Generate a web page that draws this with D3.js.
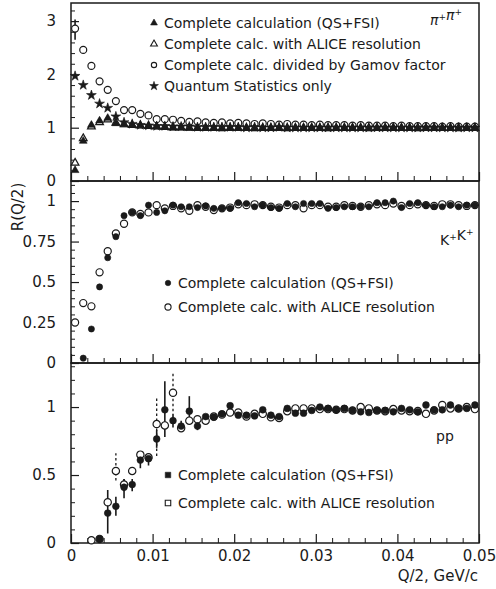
<!DOCTYPE html>
<html>
<head>
<meta charset="utf-8" />
<title>R(Q/2) for pi+pi+, K+K+ and pp</title>
<script src="https://cdn.jsdelivr.net/npm/d3@7/dist/d3.min.js"></script>
<style>
  body { margin: 0; background: #fff; }
  svg text { font-family: "DejaVu Sans", sans-serif; fill: #1a1a1a; }
</style>
</head>
<body>
<script>
// bin centres in Q/2 (GeV/c)
const qBins = [0.0005, 0.0015, 0.0025, 0.0035, 0.0045, 0.0055, 0.0065, 0.0075, 0.0085, 0.0095,
               0.0105, 0.0115, 0.0125, 0.0135, 0.0145, 0.0155, 0.0165, 0.0175, 0.0185, 0.0195,
               0.0205, 0.0215, 0.0225, 0.0235, 0.0245, 0.0255, 0.0265, 0.0275, 0.0285, 0.0295,
               0.0305, 0.0315, 0.0325, 0.0335, 0.0345, 0.0355, 0.0365, 0.0375, 0.0385, 0.0395,
               0.0405, 0.0415, 0.0425, 0.0435, 0.0445, 0.0455, 0.0465, 0.0475, 0.0485, 0.0495];

// pi+pi+
const piFull  = [0.20, 0.75, 1.05, 1.13, 1.18, 1.08, 1.06, 1.05, 1.04, 1.03,
                 1.02, 1.01, 1.00, 1.00, 0.99, 0.99, 0.99, 0.99, 0.98, 0.99,
                 0.99, 0.99, 0.98, 0.99, 0.99, 0.99, 0.98, 0.99, 0.99, 0.99,
                 0.99, 0.98, 0.99, 0.99, 0.99, 0.99, 0.98, 0.99, 0.99, 0.99,
                 0.99, 0.99, 0.98, 0.99, 0.99, 0.99, 0.99, 0.98, 0.99, 0.99];
const piAlice = [0.34, 0.80, 1.02, 1.10, 1.15, 1.09, 1.06, 1.05, 1.04, 1.03,
                 1.02, 1.01, 1.00, 1.00, 1.00, 0.99, 0.99, 0.99, 0.99, 0.99,
                 0.99, 0.99, 0.99, 0.99, 0.99, 0.99, 0.99, 0.99, 0.99, 0.99,
                 0.99, 0.99, 0.99, 0.99, 0.99, 0.99, 0.99, 0.99, 0.99, 0.99,
                 0.99, 0.99, 0.99, 0.99, 0.99, 0.99, 0.99, 0.99, 0.99, 0.99];
const piGamov = [2.86, 2.46, 2.16, 1.87, 1.71, 1.50, 1.33, 1.33, 1.26, 1.23,
                 1.16, 1.16, 1.15, 1.13, 1.11, 1.12, 1.10, 1.09, 1.10, 1.08,
                 1.09, 1.08, 1.07, 1.08, 1.07, 1.06, 1.07, 1.06, 1.06, 1.05,
                 1.06, 1.05, 1.05, 1.05, 1.04, 1.05, 1.04, 1.04, 1.04, 1.03,
                 1.04, 1.03, 1.03, 1.03, 1.03, 1.02, 1.03, 1.02, 1.02, 1.02];
const piQS    = [1.97, 1.80, 1.61, 1.45, 1.37, 1.21, 1.10, 1.07, 1.05, 1.04,
                 1.03, 1.03, 1.02, 1.02, 1.02, 1.01, 1.01, 1.01, 1.01, 1.01,
                 1.01, 1.00, 1.01, 1.00, 1.00, 1.01, 1.00, 1.00, 1.00, 1.00,
                 1.00, 1.00, 1.00, 1.00, 1.00, 1.00, 1.00, 1.00, 1.00, 1.00,
                 1.00, 1.00, 1.00, 1.00, 1.00, 1.00, 1.00, 1.00, 1.00, 1.00];
const piGamovErr = [{ q: 0.0005, lo: 2.65, hi: 3.03 }];

// K+K+
const kFull  = [null, 0.03, 0.21, 0.47, 0.65, 0.78, 0.91, 0.93, 0.91, 0.975,
                0.93, 0.94, 0.975, 0.965, 0.965, 0.96, 0.97, 0.955, 0.955, 0.955,
                0.99, 0.985, 0.965, 0.975, 0.96, 0.955, 0.985, 0.965, 0.985, 0.985,
                0.985, 0.955, 0.96, 0.965, 0.965, 0.965, 0.965, 0.99, 0.99, 1.0,
                0.96, 0.985, 0.99, 0.975, 0.965, 0.965, 0.975, 0.965, 0.975, 0.975];
const kAlice = [0.25, 0.37, 0.35, 0.56, 0.69, 0.80, 0.86, 0.93, 0.92, 0.93,
                0.975, 0.955, 0.97, 0.955, 0.94, 0.975, 0.965, 0.945, 0.955, 0.96,
                0.98, 0.975, 0.98, 0.975, 0.965, 0.96, 0.975, 0.975, 0.955, 0.975,
                0.975, 0.965, 0.965, 0.975, 0.97, 0.965, 0.975, 0.98, 0.975, 0.985,
                0.97, 0.975, 0.98, 0.975, 0.97, 0.98, 0.98, 0.975, 0.97, 0.975];

// pp
const ppFull  = [null, null, null, 0.03, 0.22, 0.27, 0.41, 0.43, 0.61, 0.62,
                 0.765, 0.98, 0.90, 0.86, 0.97, 0.86, 0.93, 0.925, 0.95, 1.01,
                 0.94, 0.94, 0.935, 0.98, 0.94, 0.93, 0.99, 0.955, 0.955, 0.975,
                 1.0, 0.99, 0.98, 0.99, 0.975, 0.965, 0.96, 0.975, 0.975, 0.965,
                 0.99, 0.98, 0.965, 1.015, 0.98, 0.98, 1.015, 0.99, 0.99, 1.015];
const ppAlice = [null, null, 0.02, 0.03, 0.30, 0.53, 0.43, 0.53, 0.65, 0.63,
                 0.875, 0.865, 1.105, 0.845, 0.90, 0.91, 0.90, 0.93, 0.945, 0.96,
                 0.96, 0.93, 0.95, 0.95, 0.925, 0.92, 0.97, 0.99, 0.99, 0.99,
                 0.985, 0.985, 0.98, 0.985, 0.975, 1.0, 0.99, 0.975, 0.97, 0.985,
                 0.975, 0.97, 0.97, 0.95, 0.975, 1.015, 0.99, 0.99, 1.0, 0.985];
const ppFullErr = [
  { q: 0.0045, lo: 0.07, hi: 0.39 }, { q: 0.0055, lo: 0.20, hi: 0.34 },
  { q: 0.0065, lo: 0.33, hi: 0.47 }, { q: 0.0075, lo: 0.38, hi: 0.47 },
  { q: 0.0085, lo: 0.55, hi: 0.67 }, { q: 0.0095, lo: 0.57, hi: 0.66 },
  { q: 0.0105, lo: 0.70, hi: 0.83 }, { q: 0.0115, lo: 0.78, hi: 1.19 },
  { q: 0.0125, lo: 0.85, hi: 0.95 }, { q: 0.0135, lo: 0.82, hi: 0.90 },
  { q: 0.0145, lo: 0.90, hi: 1.08 }, { q: 0.0155, lo: 0.83, hi: 0.89 }
];
const ppAliceErr = [
  { q: 0.0055, lo: 0.46, hi: 0.66 }, { q: 0.0065, lo: 0.38, hi: 0.47 },
  { q: 0.0105, lo: 0.64, hi: 1.07 }, { q: 0.0125, lo: 0.97, hi: 1.25 }
];

const piLegend = ["Complete calculation (QS+FSI)", "Complete calc. with ALICE resolution",
                  "Complete calc. divided by Gamov factor", "Quantum Statistics only"];
const kLegend  = ["Complete calculation (QS+FSI)", "Complete calc. with ALICE resolution"];
const ppLegend = ["Complete calculation (QS+FSI)", "Complete calc. with ALICE resolution"];

const xTicks = [0, 0.01, 0.02, 0.03, 0.04, 0.05];
const xTickLabels = ["0", "0.01", "0.02", "0.03", "0.04", "0.05"];

const width = 496, height = 589;
const left = 71, right = 479;
const ink = "#1a1a1a";

const svg = d3.select("body").append("svg")
  .attr("width", width).attr("height", height);

const x = d3.scaleLinear().domain([0, 0.05]).range([left, right]);

// three stacked panels sharing the x axis
const panels = [
  { top: 3,   bottom: 181, max: 3.34,  major: [0, 1, 2, 3],                  minorStep: 0.2 },
  { top: 181, bottom: 363, max: 1.124, major: [0, 0.25, 0.5, 0.75, 1],       minorStep: 0.05 },
  { top: 363, bottom: 543, max: 1.324, major: [0, 0.5, 1],                    minorStep: 0.1 }
];
panels.forEach(p => {
  p.y = d3.scaleLinear().domain([0, p.max]).range([p.bottom, p.top]);
});

const minorX = d3.range(0, 0.0501, 0.002).filter(v => Math.abs(v * 100 - Math.round(v * 100)) > 1e-6);

panels.forEach((p, i) => {
  // y axis: major with labels, minor without
  const yMajor = d3.axisLeft(p.y).tickValues(p.major)
    .tickSizeInner(-8).tickSizeOuter(0).tickPadding(15)
    .tickFormat(d => d3.format("")(d));
  const gy = svg.append("g").attr("transform", `translate(${left},0)`).call(yMajor);
  gy.select(".domain").remove();
  gy.selectAll("line").attr("stroke", ink).attr("stroke-width", 1.2);
  gy.selectAll("text").style("font-size", "15px").attr("fill", ink);

  const minorY = d3.range(0, p.max, p.minorStep).filter(v => !p.major.some(m => Math.abs(m - v) < 1e-6));
  const gy2 = svg.append("g").attr("transform", `translate(${left},0)`)
    .call(d3.axisLeft(p.y).tickValues(minorY).tickSizeInner(-4).tickSizeOuter(0).tickFormat(""));
  gy2.select(".domain").remove();
  gy2.selectAll("line").attr("stroke", ink).attr("stroke-width", 1);

  // x axis ticks pointing up into each panel
  const gx = svg.append("g").attr("transform", `translate(0,${p.bottom})`)
    .call(d3.axisBottom(x).tickValues(xTicks).tickSizeInner(-9).tickSizeOuter(0).tickPadding(7)
      .tickFormat((d, k) => i === 2 ? xTickLabels[k] : ""));
  gx.select(".domain").remove();
  gx.selectAll("line").attr("stroke", ink).attr("stroke-width", 1.2);
  gx.selectAll("text").style("font-size", "15px").attr("fill", ink);

  const gx2 = svg.append("g").attr("transform", `translate(0,${p.bottom})`)
    .call(d3.axisBottom(x).tickValues(minorX).tickSizeInner(-5).tickSizeOuter(0).tickFormat(""));
  gx2.select(".domain").remove();
  gx2.selectAll("line").attr("stroke", ink).attr("stroke-width", 1);

  svg.append("rect")
    .attr("x", left).attr("y", p.top)
    .attr("width", right - left).attr("height", p.bottom - p.top)
    .attr("fill", "none").attr("stroke", ink).attr("stroke-width", 1.5);
});

function pts(vals) {
  return qBins.map((q, k) => ({ q: q, v: vals[k] })).filter(d => d.v != null);
}

function drawSymbols(panel, vals, type, size, filled) {
  svg.append("g").selectAll("path")
    .data(pts(vals))
    .join("path")
    .attr("transform", d => `translate(${x(d.q)},${panel.y(d.v)})`)
    .attr("d", d3.symbol().type(type).size(size))
    .attr("fill", filled ? ink : "#fff")
    .attr("stroke", ink)
    .attr("stroke-width", filled ? 0.6 : 1.2);
}

function drawErrors(panel, errs, dashed) {
  svg.append("g").selectAll("line")
    .data(errs)
    .join("line")
    .attr("x1", d => x(d.q)).attr("x2", d => x(d.q))
    .attr("y1", d => panel.y(d.lo)).attr("y2", d => panel.y(d.hi))
    .attr("stroke", ink)
    .attr("stroke-width", dashed ? 1.3 : 1.6)
    .attr("stroke-dasharray", dashed ? "2.5,2.5" : null);
}

function drawLegend(lx, ly, gap, items, labels) {
  const g = svg.append("g");
  labels.forEach((t, k) => {
    const it = items[k];
    g.append("path")
      .attr("transform", `translate(${lx},${ly + k * gap})`)
      .attr("d", d3.symbol().type(it.type).size(it.size))
      .attr("fill", it.filled ? ink : "#fff")
      .attr("stroke", ink).attr("stroke-width", it.filled ? 0.6 : 1.1);
    g.append("text")
      .attr("x", lx + 10).attr("y", ly + k * gap + 5)
      .style("font-size", "14px")
      .text(t);
  });
}

// pi+pi+ panel
const P1 = panels[0], P2 = panels[1], P3 = panels[2];
drawErrors(P1, piGamovErr, false);
drawSymbols(P1, piGamov, d3.symbolCircle, 38, false);
drawSymbols(P1, piQS, d3.symbolStar, 30, true);
drawSymbols(P1, piAlice, d3.symbolTriangle, 26, false);
drawSymbols(P1, piFull, d3.symbolTriangle, 26, true);
drawLegend(154, 23, 21, [
  { type: d3.symbolTriangle, size: 20, filled: true },
  { type: d3.symbolTriangle, size: 20, filled: false },
  { type: d3.symbolCircle, size: 22, filled: false },
  { type: d3.symbolStar, size: 24, filled: true }
], piLegend);

// K+K+ panel
drawSymbols(P2, kAlice, d3.symbolCircle, 40, false);
drawSymbols(P2, kFull, d3.symbolCircle, 30, true);
drawLegend(168, 283, 24, [
  { type: d3.symbolCircle, size: 24, filled: true },
  { type: d3.symbolCircle, size: 30, filled: false }
], kLegend);

// pp panel
drawErrors(P3, ppAliceErr, true);
drawErrors(P3, ppFullErr, false);
drawSymbols(P3, ppAlice, d3.symbolCircle, 42, false);
drawSymbols(P3, ppFull, d3.symbolCircle, 36, true);
drawLegend(168, 475, 28, [
  { type: d3.symbolSquare, size: 30, filled: true },
  { type: d3.symbolSquare, size: 30, filled: false }
], ppLegend);

// particle labels
function particle(tx, ty, base, italic) {
  const t = svg.append("text").attr("x", tx).attr("y", ty).style("font-size", "14px");
  [0, 1].forEach(() => {
    t.append("tspan").style("font-style", italic ? "italic" : "normal").attr("dy", 0).text(base);
    t.append("tspan").attr("dy", -5).style("font-size", "9px").text("+");
    t.append("tspan").attr("dy", 5).text("");
  });
}
particle(430, 25, "\u03c0", true);
particle(440, 245, "K", false);
svg.append("text").attr("x", 436).attr("y", 441).style("font-size", "14px").text("pp");

// axis titles
svg.append("text")
  .attr("transform", "translate(23,207) rotate(-90)")
  .attr("text-anchor", "middle")
  .style("font-size", "15px")
  .text("R(Q/2)");
svg.append("text")
  .attr("x", 478).attr("y", 581)
  .attr("text-anchor", "end")
  .style("font-size", "15px")
  .text("Q/2, GeV/c");
</script>
</body>
</html>
